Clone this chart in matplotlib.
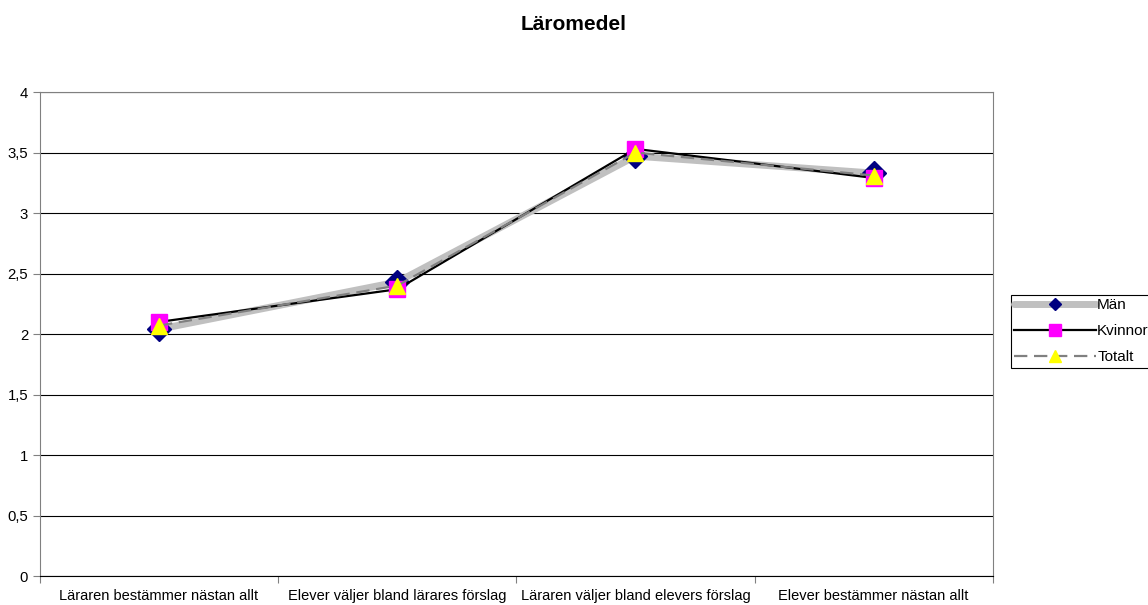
import matplotlib.pyplot as plt
from matplotlib.ticker import FuncFormatter

plt.rcParams['font.family'] = ['Liberation Sans', 'DejaVu Sans']

# Kategorier och medelvärden
categories = ["Läraren bestämmer nästan allt", "Elever väljer bland lärares förslag",
              "Läraren väljer bland elevers förslag", "Elever bestämmer nästan allt"]
man = [2.04, 2.43, 3.47, 3.33]
kvinnor = [2.10, 2.37, 3.53, 3.29]
totalt = [2.07, 2.40, 3.50, 3.31]

fig = plt.figure(figsize=(11.48, 6.05), dpi=100)
ax = fig.add_axes([0.0348, 0.0479, 0.830, 0.800])

x = range(len(categories))
ax.plot(x, man, color="#c0c0c0", lw=5, solid_capstyle="round",
        marker="D", ms=12, mfc="#000080", mec="#000080", label="Män", zorder=3)
ax.plot(x, kvinnor, color="black", lw=1.6,
        marker="s", ms=11, mfc="#ff00ff", mec="#ff00ff", label="Kvinnor", zorder=4)
ax.plot(x, totalt, color="#808080", lw=1.6, ls=(0, (6, 3)),
        marker="^", ms=11, mfc="#ffff00", mec="#ffff00", label="Totalt", zorder=5)

ax.set_xlim(-0.5, len(categories) - 0.5)
ax.set_ylim(0, 4)
ax.set_yticks([i * 0.5 for i in range(9)])
ax.yaxis.set_major_formatter(FuncFormatter(lambda v, p: f"{v:g}".replace(".", ",")))
ax.yaxis.grid(True, color="black", lw=0.8)
ax.set_axisbelow(True)

ax.set_xticks([i - 0.5 for i in range(len(categories) + 1)])
ax.set_xticklabels([])
ax.set_xticks(list(x), minor=True)
ax.set_xticklabels(categories, minor=True, fontsize=10.5)
ax.tick_params(axis="x", which="minor", length=0, pad=9)
ax.tick_params(axis="x", which="major", length=5, color="#808080")
ax.tick_params(axis="y", length=5, labelsize=10.7, color="#808080")

for side in ["top", "right", "left"]:
    ax.spines[side].set_color("#808080")
ax.spines["bottom"].set_color("black")

fig.text(0.5, 0.9587, "Läromedel", ha="center", va="center", fontsize=15, fontweight="bold")

leg = fig.legend(loc="upper left", bbox_to_anchor=(0.8805, 0.5124), borderaxespad=0,
                 fontsize=11, handlelength=5.4, handletextpad=0.05, labelspacing=0.8,
                 borderpad=0.2, fancybox=False, edgecolor="black", framealpha=1)
leg.get_frame().set_linewidth(0.8)
for h, ms in zip(leg.legend_handles, [6, 8.5, 8.5]):
    h.set_markersize(ms)

fig.savefig("out.png", dpi=100)
